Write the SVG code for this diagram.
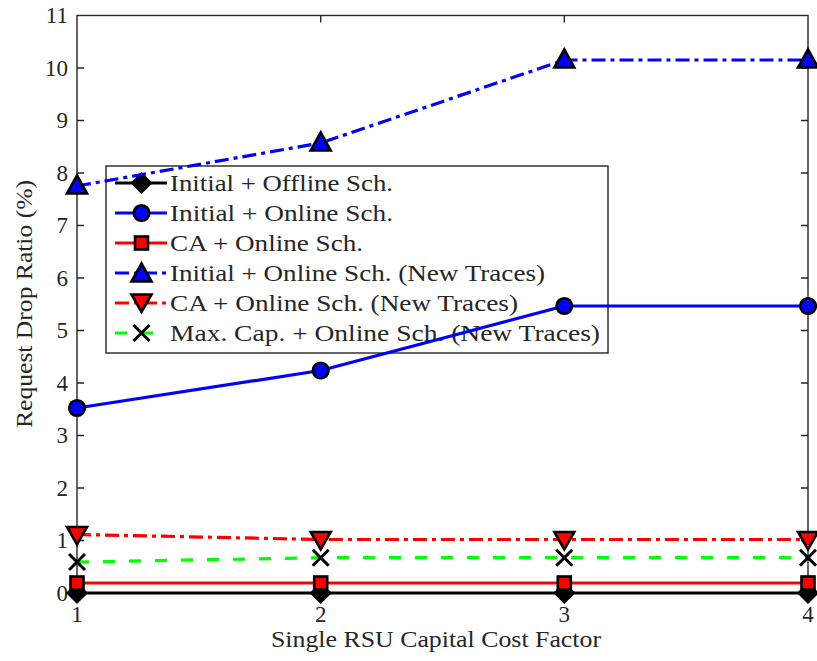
<svg xmlns="http://www.w3.org/2000/svg" width="817" height="661" viewBox="0 0 817 661">
  <defs>
    <style>
      text { font-family: "Liberation Serif", "Times New Roman", serif; fill: #262626; }
      .tick { font-size: 23px; }
      .ylab { text-anchor: end; }
      .xlab { text-anchor: middle; }
      .leg { font-size: 24px; }
      .axis { fill: none; stroke: #262626; stroke-width: 1.4; }
      .ln { fill: none; stroke-width: 3.2; stroke-linejoin: round; }
      .black { stroke: #000000; }
      .blue { stroke: #0000ff; }
      .red { stroke: #ff0000; }
      .green { stroke: #00ff00; }
      .dashdot { stroke-dasharray: 14 5 4 5; }
      .dashed { stroke-dasharray: 12 14; }
      .mk { stroke: #000000; stroke-width: 2.6; stroke-linejoin: miter; }
    </style>
    <polygon id="diamond" points="0,-10 10,0 0,10 -10,0" fill="#000000" stroke="#000000" stroke-width="1.5"/>
    <circle id="dot" r="7.8" fill="#0000ff" class="mk"/>
    <rect id="square" x="-6.5" y="-6.5" width="13" height="13" fill="#ff0000" class="mk"/>
    <polygon id="tri" points="0,-10.5 10,7.5 -10,7.5" fill="#0000ff" class="mk"/>
    <polygon id="itri" points="-10,-7.5 10,-7.5 0,10" fill="#ff0000" class="mk"/>
    <path id="cross" d="M-8,-8 L8,8 M-8,8 L8,-8" fill="none" stroke="#000000" stroke-width="3"/>
  </defs>

  <rect width="817" height="661" fill="#ffffff"/>

  <!-- axes frame and ticks -->
  <g id="axes">
    <rect class="axis" x="77" y="15.5" width="731" height="577.5"/>
    <path class="axis" d="M77,540.5h7M77,488h7M77,435.5h7M77,383h7M77,330.5h7M77,278h7M77,225.5h7M77,173h7M77,120.5h7M77,68h7
      M808,540.5h-7M808,488h-7M808,435.5h-7M808,383h-7M808,330.5h-7M808,278h-7M808,225.5h-7M808,173h-7M808,120.5h-7M808,68h-7
      M320.7,593v-7M564.3,593v-7M320.7,15.5v7M564.3,15.5v7"/>
    <g class="tick ylab">
      <text x="68" y="600.5">0</text>
      <text x="68" y="548">1</text>
      <text x="68" y="495.5">2</text>
      <text x="68" y="443">3</text>
      <text x="68" y="390.5">4</text>
      <text x="68" y="338">5</text>
      <text x="68" y="285.5">6</text>
      <text x="68" y="233">7</text>
      <text x="68" y="180.5">8</text>
      <text x="68" y="128">9</text>
      <text x="68" y="75.5">10</text>
      <text x="68" y="23">11</text>
    </g>
    <g class="tick xlab">
      <text x="77" y="622">1</text>
      <text x="320.7" y="622">2</text>
      <text x="564.3" y="622">3</text>
      <text x="808" y="622">4</text>
    </g>
    <text x="436" y="647" font-size="24" text-anchor="middle" textLength="330" lengthAdjust="spacingAndGlyphs">Single RSU Capital Cost Factor</text>
    <text transform="translate(32,304) rotate(-90)" font-size="24" text-anchor="middle" textLength="248" lengthAdjust="spacingAndGlyphs">Request Drop Ratio (%)</text>
  </g>

  <!-- legend (drawn beneath the plotted series) -->
  <g id="legend">
    <rect x="106" y="166" width="502" height="187" fill="#ffffff" stroke="#262626" stroke-width="1.4"/>
    <line class="ln black" x1="115" y1="183" x2="167" y2="183"/>
    <use href="#diamond" x="141.5" y="183"/>
    <line class="ln blue" x1="115" y1="213" x2="167" y2="213"/>
    <use href="#dot" x="141.5" y="213"/>
    <line class="ln red" x1="115" y1="243" x2="167" y2="243"/>
    <use href="#square" x="141.5" y="243"/>
    <line class="ln blue" stroke-dasharray="14 5 4 5" x1="115" y1="273" x2="167" y2="273"/>
    <use href="#tri" x="141.5" y="274"/>
    <line class="ln red" stroke-dasharray="14 5 4 5" x1="115" y1="303" x2="167" y2="303"/>
    <use href="#itri" x="141.5" y="302"/>
    <line class="ln green" stroke-dasharray="12 14" x1="115" y1="333" x2="167" y2="333"/>
    <use href="#cross" x="141.5" y="333"/>
    <g class="leg">
      <text x="170" y="191" textLength="223" lengthAdjust="spacingAndGlyphs">Initial + Offline Sch.</text>
      <text x="170" y="221" textLength="223" lengthAdjust="spacingAndGlyphs">Initial + Online Sch.</text>
      <text x="170" y="251" textLength="193" lengthAdjust="spacingAndGlyphs">CA + Online Sch.</text>
      <text x="170" y="281" textLength="375" lengthAdjust="spacingAndGlyphs">Initial + Online Sch. (New Traces)</text>
      <text x="170" y="311" textLength="348" lengthAdjust="spacingAndGlyphs">CA + Online Sch. (New Traces)</text>
      <text x="170" y="341" textLength="430" lengthAdjust="spacingAndGlyphs">Max. Cap. + Online Sch. (New Traces)</text>
    </g>
  </g>

  <!-- data series -->
  <g id="connectors">
    <polyline class="ln black" points="77,593 320.7,593 564.3,593 808,593"/>
    <polyline class="ln blue" points="77,408 320.7,370.5 564.3,306 808,306"/>
    <polyline class="ln red" points="77,583 320.7,583 564.3,583 808,583"/>
    <polyline class="ln blue dashdot" points="77,186 320.7,143 564.3,60 808,60"/>
    <polyline class="ln red dashdot" points="77,534.5 320.7,539.5 564.3,539.5 808,539.5"/>
    <polyline class="ln green dashed" points="77,562 320.7,557.7 564.3,557.7 808,557.7"/>
  </g>

  <g id="series-initial-offline">
    <use href="#diamond" x="77" y="593"/><use href="#diamond" x="320.7" y="593"/>
    <use href="#diamond" x="564.3" y="593"/><use href="#diamond" x="808" y="593"/>
  </g>
  <g id="series-initial-online">
    <use href="#dot" x="77" y="408"/><use href="#dot" x="320.7" y="370.5"/>
    <use href="#dot" x="564.3" y="306"/><use href="#dot" x="808" y="306"/>
  </g>
  <g id="series-ca-online">
    <use href="#square" x="77" y="583"/><use href="#square" x="320.7" y="583"/>
    <use href="#square" x="564.3" y="583"/><use href="#square" x="808" y="583"/>
  </g>
  <g id="series-initial-online-new">
    <use href="#tri" x="77" y="186"/><use href="#tri" x="320.7" y="143"/>
    <use href="#tri" x="564.3" y="60"/><use href="#tri" x="808" y="60"/>
  </g>
  <g id="series-ca-online-new">
    <use href="#itri" x="77" y="534.5"/><use href="#itri" x="320.7" y="539.5"/>
    <use href="#itri" x="564.3" y="539.5"/><use href="#itri" x="808" y="539.5"/>
  </g>
  <g id="series-maxcap-online-new">
    <use href="#cross" x="77" y="562"/><use href="#cross" x="320.7" y="557.7"/>
    <use href="#cross" x="564.3" y="557.7"/><use href="#cross" x="808" y="557.7"/>
  </g>
</svg>
